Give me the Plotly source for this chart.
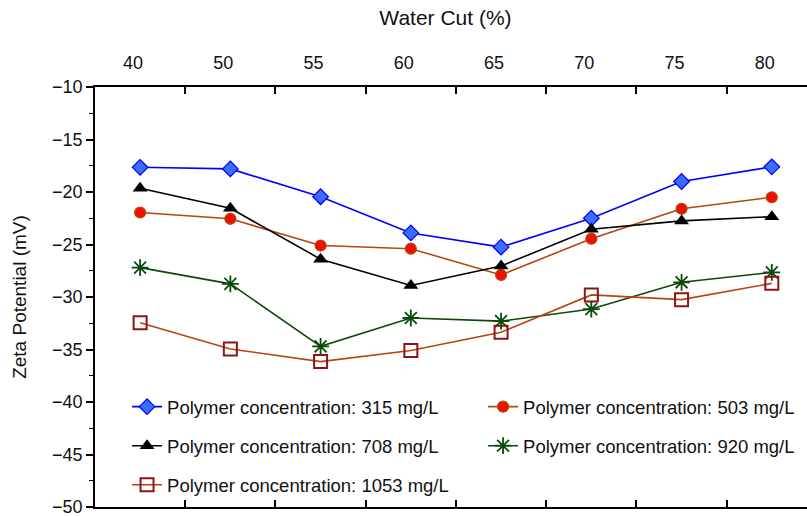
import plotly.graph_objects as go

water_cut = ["40", "50", "55", "60", "65", "70", "75", "80"]
zp_315 = [-17.65, -17.8, -20.45, -23.9, -25.25, -22.5, -19.0, -17.6]
zp_503 = [-21.95, -22.55, -25.1, -25.4, -27.9, -24.45, -21.6, -20.5]
zp_708 = [-19.65, -21.55, -26.4, -28.9, -27.05, -23.55, -22.75, -22.35]
zp_920 = [-27.2, -28.75, -34.7, -32.0, -32.3, -31.15, -28.6, -27.65]
zp_1053 = [-32.45, -34.95, -36.15, -35.1, -33.35, -29.8, -30.25, -28.7]

FONT = "Liberation Sans, Arial, Helvetica, sans-serif"

series = [
    ("Polymer concentration: 315 mg/L", zp_315, dict(color="#0000ff", width=1.6),
     dict(symbol="diamond", size=12, color="#3a6cff", line=dict(color="#0000ee", width=1.2)), "legend"),
    ("Polymer concentration: 503 mg/L", zp_503, dict(color="#b4460f", width=1.6),
     dict(symbol="circle", size=11, color="#ee1100", line=dict(color="#b4460f", width=1.2)), "legend2"),
    ("Polymer concentration: 708 mg/L", zp_708, dict(color="#000000", width=1.6),
     dict(symbol="triangle-up", size=13, color="#000000"), "legend"),
    ("Polymer concentration: 920 mg/L", zp_920, dict(color="#0b4a0b", width=1.6),
     dict(symbol="asterisk-open", size=14, color="#0b4a0b", line=dict(color="#0b4a0b", width=1.8)), "legend2"),
    ("Polymer concentration: 1053 mg/L", zp_1053, dict(color="#b4460f", width=1.6),
     dict(symbol="square-open", size=13, color="#8b1515", line=dict(color="#8b1515", width=2)), "legend"),
]

fig = go.Figure()
for i, (name, ys, line, marker, lg) in enumerate(series):
    fig.add_trace(go.Scatter(
        x=water_cut, y=ys, name=name, mode="lines+markers",
        line=line, marker=marker, legend=lg, legendgroup=str(i),
    ))

legend_common = dict(
    font=dict(family=FONT, size=18.5, color="#111111"),
    bgcolor="rgba(0,0,0,0)", borderwidth=0,
    tracegroupgap=12, orientation="v",
    xanchor="left", yanchor="top",
)

fig.update_layout(
    width=807, height=516,
    margin=dict(l=95, r=0, t=87, b=9),
    paper_bgcolor="white", plot_bgcolor="white",
    font=dict(family=FONT, size=18, color="#111111"),
    showlegend=True,
    legend=dict(x=0.045, y=0.283, **legend_common),
    legend2=dict(x=0.545, y=0.283, **legend_common),
    title=dict(text="Water Cut (%)", x=0.552, xanchor="center", y=0.966, yanchor="middle",
               font=dict(family=FONT, size=21, color="#111111")),
)

fig.update_xaxes(
    type="category", side="top", range=[-0.5, 7.39],
    showline=True, linecolor="black", linewidth=1.5, mirror="all",
    ticks="inside", ticklen=7, tickwidth=1.5, tickcolor="black",
    tickson="boundaries", ticklabelshift=-7, ticklabelstandoff=9,
    showgrid=False, zeroline=False,
    tickfont=dict(family=FONT, size=18, color="#111111"),
)

fig.update_yaxes(
    range=[-50, -10], dtick=5, tick0=-50,
    showline=True, linecolor="black", linewidth=1.5, mirror=False,
    ticks="outside", ticklen=7, tickwidth=1.5, tickcolor="black",
    ticklabeloverflow="allow",
    minor=dict(dtick=2.5, ticks="outside", ticklen=4, tickwidth=1.2, tickcolor="black", showgrid=False),
    showgrid=False, zeroline=False,
    tickfont=dict(family=FONT, size=18, color="#111111"),
    title=dict(text="Zeta Potential (mV)", font=dict(family=FONT, size=19, color="#111111"), standoff=20),
)

fig.write_html("out.html")
